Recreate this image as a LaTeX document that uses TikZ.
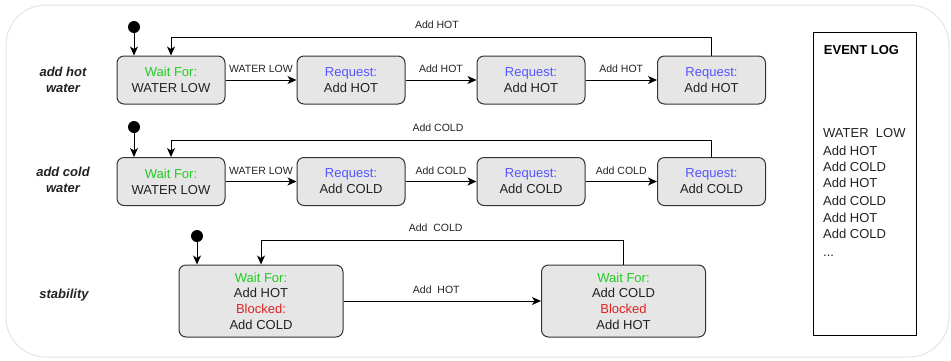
\documentclass[tikz,border=0pt]{standalone}
\usepackage{fontspec}
\setmainfont{Liberation Sans}
\usetikzlibrary{arrows.meta}

\definecolor{boxfill}{HTML}{E6E6E6}
\definecolor{boxline}{HTML}{333333}
\definecolor{frameline}{HTML}{E4E4E4}
\definecolor{waitgreen}{HTML}{22CC22}
\definecolor{reqblue}{HTML}{5555FF}
\definecolor{blockred}{HTML}{DD2222}
\definecolor{ink}{HTML}{222222}

\begin{document}
\begin{tikzpicture}[x=1pt,y=-1pt,
  state/.style={draw=boxline, fill=boxfill, line width=1pt, rounded corners=7pt,
    minimum width=108pt, minimum height=48pt, inner sep=0pt, align=center,
    text=ink, font=\fontsize{13}{16}\selectfont},
  bigstate/.style={state, minimum width=164pt, minimum height=72pt,
    font=\fontsize{13}{15.7}\selectfont},
  initdot/.style={circle, fill=black, minimum size=12pt, inner sep=0pt},
  arr/.style={draw=black, line width=1pt, -{Stealth[length=9pt,width=8pt,inset=2.5pt]}},
  elabel/.style={font=\fontsize{10.5}{12}\selectfont, text=ink, inner sep=0pt},
  rowlabel/.style={font=\fontsize{13}{16}\selectfont\bfseries\itshape, align=center, text=ink},
  logline/.style={font=\fontsize{13}{15}\selectfont, text=ink, anchor=west, inner sep=0pt}
]
\useasboundingbox (0,0) rectangle (951,360);

% outer frame
\draw[frameline, line width=1pt, rounded corners=40pt] (6,5) rectangle (949,357);

% ---------- row 1: add hot water ----------
\node[rowlabel] (lab1) at (63,80) {add hot\\water};
\node[state] (r1a) at (171,80) {\textcolor{waitgreen}{Wait For:}\\WATER LOW};
\node[state] (r1b) at (351,80) {\textcolor{reqblue}{Request:}\\Add HOT};
\node[state] (r1c) at (531,80) {\textcolor{reqblue}{Request:}\\Add HOT};
\node[state] (r1d) at (711.5,80) {\textcolor{reqblue}{Request:}\\Add HOT};
\node[initdot] (i1) at (134,27) {};
\draw[arr] (i1) -- (i1 |- r1a.north);
\draw[arr] (r1a) -- node[elabel, midway, above=6.7pt] {WATER LOW} (r1b);
\draw[arr] (r1b) -- node[elabel, midway, above=6.7pt] {Add HOT} (r1c);
\draw[arr] (r1c) -- node[elabel, midway, above=6.7pt] {Add HOT} (r1d);
\draw[arr] (r1d.north) -- ++(0,-18) -| node[elabel, pos=0.254, above=8pt] {Add HOT} (r1a.north);

% ---------- row 2: add cold water ----------
\node[rowlabel] (lab2) at (63,180) {add cold\\water};
\node[state] (r2a) at (171,181.5) {\textcolor{waitgreen}{Wait For:}\\WATER LOW};
\node[state] (r2b) at (351,181.5) {\textcolor{reqblue}{Request:}\\Add COLD};
\node[state] (r2c) at (531,181.5) {\textcolor{reqblue}{Request:}\\Add COLD};
\node[state] (r2d) at (711.5,181.5) {\textcolor{reqblue}{Request:}\\Add COLD};
\node[initdot] (i2) at (134,127) {};
\draw[arr] (i2) -- (i2 |- r2a.north);
\draw[arr] (r2a) -- node[elabel, midway, above=6.7pt] {WATER LOW} (r2b);
\draw[arr] (r2b) -- node[elabel, midway, above=6.7pt] {Add COLD} (r2c);
\draw[arr] (r2c) -- node[elabel, midway, above=6.7pt] {Add COLD} (r2d);
\draw[arr] (r2d.north) -- ++(0,-17) -| node[elabel, pos=0.253, above=8pt] {Add COLD} (r2a.north);

% ---------- row 3: stability ----------
\node[rowlabel] (lab3) at (64,295) {stability};
\node[bigstate] (r3a) at (261,301) {\textcolor{waitgreen}{Wait For:}\\Add HOT\\\textcolor{blockred}{Blocked:}\\Add COLD};
\node[bigstate] (r3b) at (623.5,301) {\textcolor{waitgreen}{Wait For:}\\Add COLD\\\textcolor{blockred}{Blocked}\\Add HOT};
\node[initdot] (i3) at (197,236) {};
\draw[arr] (i3) -- (i3 |- r3a.north);
\draw[arr] (r3a) -- node[elabel, midway, above=6.7pt, xshift=-6pt] {Add\ \ HOT} (r3b);
\draw[arr] (r3b.north) -- ++(0,-24) -| node[elabel, pos=0.259, above=8pt] {Add\ \ COLD} (r3a.north);

% ---------- event log ----------
\node[draw=black, line width=1pt, minimum width=103pt, minimum height=303pt, inner sep=0pt] (log) at (864.5,183.5) {};
\node[font=\fontsize{13}{15}\selectfont\bfseries, text=black, inner sep=0pt] (logtitle) at (861.5,50.5) {EVENT LOG};
\node[logline] (e1) at (823,132.7) {WATER\ \ LOW};
\node[logline] (e2) at (823,150.5) {Add HOT};
\node[logline] (e3) at (823,167.3) {Add COLD};
\node[logline] (e4) at (823,183.3) {Add HOT};
\node[logline] (e5) at (823,201.3) {Add COLD};
\node[logline] (e6) at (823,217.8) {Add HOT};
\node[logline] (e7) at (823,234.3) {Add COLD};
\node[logline, anchor=base west] (e8) at (823,256) {...};
\end{tikzpicture}
\end{document}
